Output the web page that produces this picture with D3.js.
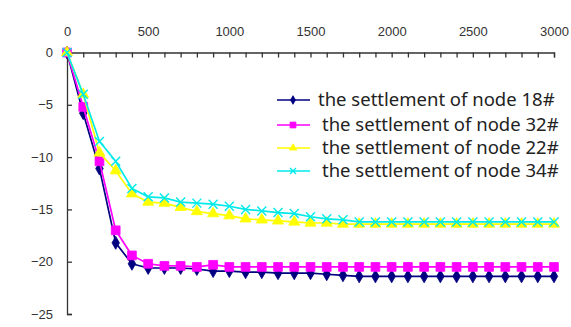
<!DOCTYPE html>
<html>
<head>
<meta charset="utf-8">
<script src="https://cdn.jsdelivr.net/npm/d3@7"></script>
<style>
  html, body { margin: 0; padding: 0; background: #fff; }
  svg { display: block; }
</style>
</head>
<body>
<svg id="chart" width="571" height="327"></svg>
<script>
// Sampling times (every 100 units, 0 to 3000)
const times = d3.range(0, 3001, 100);

// Settlement of each node at the sampling times
const node18 = [0, -5.8, -11.1, -18.2, -20.2, -20.6, -20.6, -20.6, -20.7, -20.9, -20.9,
  -21.0, -21.0, -21.1, -21.1, -21.1, -21.2, -21.3, -21.4, -21.4, -21.4,
  -21.4, -21.4, -21.4, -21.4, -21.4, -21.4, -21.4, -21.4, -21.4, -21.4];
const node32 = [0, -5.2, -10.4, -17.0, -19.4, -20.2, -20.4, -20.4, -20.5, -20.3, -20.5,
  -20.5, -20.5, -20.5, -20.5, -20.5, -20.5, -20.5, -20.5, -20.5, -20.5,
  -20.5, -20.5, -20.5, -20.5, -20.5, -20.5, -20.5, -20.5, -20.5, -20.5];
const node22 = [0, -4.0, -9.6, -11.3, -13.5, -14.3, -14.4, -14.8, -15.2, -15.4, -15.6,
  -15.9, -16.0, -16.1, -16.2, -16.3, -16.3, -16.4, -16.4, -16.4, -16.4,
  -16.4, -16.4, -16.4, -16.4, -16.4, -16.4, -16.4, -16.4, -16.4, -16.4];
const node34 = [0, -4.0, -8.5, -10.4, -13.0, -13.8, -13.9, -14.3, -14.4, -14.5, -14.7,
  -15.0, -15.15, -15.3, -15.4, -15.7, -15.9, -16.0, -16.2, -16.2, -16.2,
  -16.2, -16.2, -16.2, -16.2, -16.2, -16.2, -16.2, -16.2, -16.2, -16.2];

const seriesNames = ["the settlement of node 18#", "the settlement of node 32#",
  "the settlement of node 22#", "the settlement of node 34#"];
const xTickLabels = [0, 500, 1000, 1500, 2000, 2500, 3000];
const yTickLabels = [0, -5, -10, -15, -20, -25];

const series = [
  { name: seriesNames[0], values: node18, color: "#000080", marker: "diamond" },
  { name: seriesNames[1], values: node32, color: "#ff00ff", marker: "square" },
  { name: seriesNames[2], values: node22, color: "#ffff00", marker: "triangle" },
  { name: seriesNames[3], values: node34, color: "#00eaea", marker: "cross" }
];

const svg = d3.select("#chart");

const x = d3.scaleLinear().domain([0, 3000]).range([67, 554]);
const y = d3.scaleLinear().domain([0, -25]).range([52.5, 314]);

// X axis along the top (y = 0), minor ticks every 100, labels every 500
const xAxis = d3.axisTop(x)
  .tickValues(times)
  .tickSizeInner(-5)
  .tickSizeOuter(-5)
  .tickPadding(17)
  .tickFormat(d => xTickLabels.includes(d) ? String(d) : "");

svg.append("g")
  .attr("transform", `translate(0,${y(0)})`)
  .call(xAxis)
  .call(g => g.selectAll("path, line").attr("stroke", "#333").attr("stroke-width", 1.3))
  .call(g => g.selectAll("text")
    .attr("font-family", "Liberation Sans, Arial, sans-serif")
    .attr("font-size", 13)
    .attr("fill", "#333"));

// Y axis on the left, ticks pointing into the plot
const yAxis = d3.axisLeft(y)
  .tickValues(yTickLabels)
  .tickSizeInner(-5)
  .tickSizeOuter(-5)
  .tickPadding(14)
  .tickFormat(d3.format("d"));

svg.append("g")
  .attr("transform", `translate(${x(0)},0)`)
  .call(yAxis)
  .call(g => g.selectAll("path, line").attr("stroke", "#333").attr("stroke-width", 1.3))
  .call(g => g.selectAll("text")
    .attr("font-family", "Liberation Sans, Arial, sans-serif")
    .attr("font-size", 13)
    .attr("fill", "#333"));

// Marker shapes
function markerPath(kind, s) {
  if (kind === "diamond") return d3.symbol(d3.symbolDiamond, s * s * 0.6)();
  if (kind === "square") return d3.symbol(d3.symbolSquare, s * s * 0.95)();
  if (kind === "triangle") return d3.symbol(d3.symbolTriangle, s * s * 0.65)();
  const h = s / 2;
  return `M${-h},${-h}L${h},${h}M${-h},${h}L${h},${-h}`;
}

function drawMarker(g, kind, color, s) {
  const p = g.append("path").attr("d", markerPath(kind, s));
  if (kind === "cross") {
    p.attr("fill", "none").attr("stroke", color).attr("stroke-width", 1.4);
  } else {
    p.attr("fill", color).attr("stroke", color).attr("stroke-width", 0.8);
  }
  return p;
}

const line = d3.line()
  .x((d, i) => x(times[i]))
  .y(d => y(d));

series.forEach(s => {
  const g = svg.append("g");
  g.append("path")
    .datum(s.values)
    .attr("d", line)
    .attr("fill", "none")
    .attr("stroke", s.color)
    .attr("stroke-width", 1.7);
  s.values.forEach((v, i) => {
    const m = g.append("g").attr("transform", `translate(${x(times[i])},${y(v)})`);
    drawMarker(m, s.marker, s.color, 9);
  });
});

// Legend
const legendRows = [100, 125, 148, 171];
const legendTextX = [318, 322, 322, 322];
series.forEach((s, i) => {
  const g = svg.append("g").attr("transform", `translate(0,${legendRows[i]})`);
  g.append("line")
    .attr("x1", 277).attr("x2", 310)
    .attr("stroke", s.color).attr("stroke-width", 1.5);
  const m = g.append("g").attr("transform", "translate(293,0)");
  drawMarker(m, s.marker, s.color, 6);
  g.append("text")
    .attr("x", legendTextX[i])
    .attr("y", 0)
    .attr("dy", "0.35em")
    .attr("font-family", "Noto Sans, Open Sans, sans-serif")
    .attr("font-size", 18.5)
    .attr("fill", "#222")
    .text(s.name);
});
</script>
</body>
</html>
